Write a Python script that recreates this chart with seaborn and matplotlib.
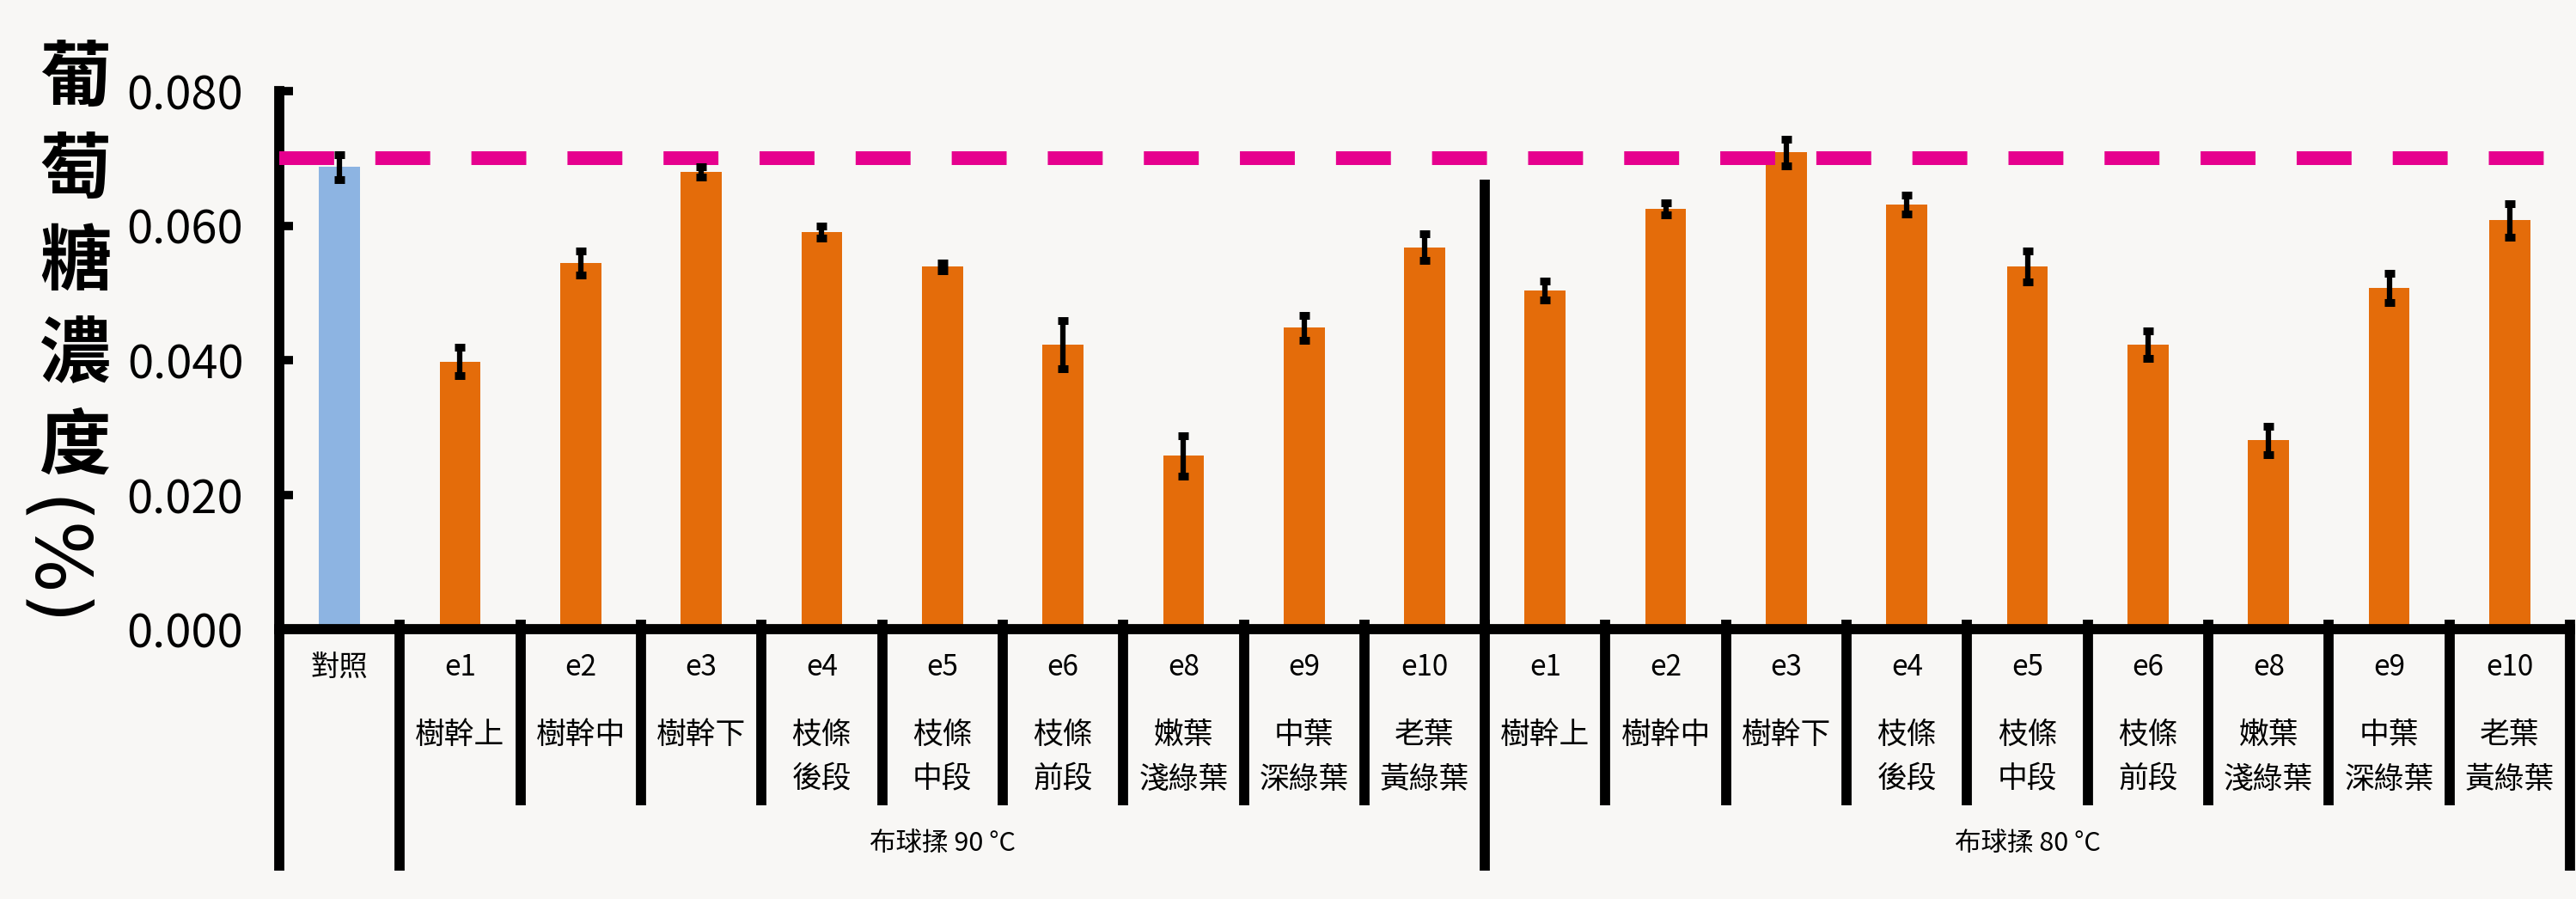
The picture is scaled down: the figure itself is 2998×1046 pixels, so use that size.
import numpy as np
import pandas as pd
import matplotlib
matplotlib.use("Agg")
import matplotlib.pyplot as plt
import matplotlib.transforms as mtransforms
import seaborn as sns

# ---- data -------------------------------------------------------------
control_label = "對照"
control_value = 0.0687
control_err = 0.0019

codes = ["e1", "e2", "e3", "e4", "e5", "e6", "e8", "e9", "e10"]
parts = ["樹幹上", "樹幹中", "樹幹下", "枝條\n後段", "枝條\n中段",
         "枝條\n前段", "嫩葉\n淺綠葉", "中葉\n深綠葉", "老葉\n黃綠葉"]
group_names = ["布球揉 90 °C", "布球揉 80 °C"]

values_90 = [0.0398, 0.0544, 0.0680, 0.0591, 0.0539, 0.0423, 0.0258, 0.0448, 0.0568]
err_90 = [0.0021, 0.0018, 0.0008, 0.0009, 0.0006, 0.0036, 0.0030, 0.0018, 0.0020]
values_80 = [0.0504, 0.0625, 0.0709, 0.0631, 0.0539, 0.0423, 0.0281, 0.0507, 0.0608]
err_80 = [0.0014, 0.0009, 0.0020, 0.0014, 0.0023, 0.0020, 0.0021, 0.0022, 0.0025]

reference_level = 0.070
y_ticks = [0.000, 0.020, 0.040, 0.060, 0.080]
y_title_chars = ["葡", "萄", "糖", "濃", "度"]
y_title_unit = "(%)"

# ---- style ------------------------------------------------------------
BG = "#f8f7f5"
BLUE = "#8db4e2"
ORANGE = "#e46c0a"
MAGENTA = "#e6008e"
INK = "black"
LW = 8.5

sns.set_theme(style="white")
plt.rcParams["font.family"] = ["Noto Sans CJK TC", "DejaVu Sans"]

values = [control_value] + values_90 + values_80
errs = [control_err] + err_90 + err_80
n = len(values)
df = pd.DataFrame({
    "slot": [str(i) for i in range(n)],
    "value": values,
    "kind": ["control"] + ["treated"] * (n - 1),
})

W, H = 2998, 1046
fig = plt.figure(figsize=(W / 100, H / 100), dpi=100, facecolor=BG)
ax = fig.add_axes([325 / W, 1 - 732 / H, (2991 - 325) / W, (732 - 106) / H])
ax.set_facecolor("none")

sns.barplot(data=df, x="slot", y="value", hue="kind", order=df["slot"],
            palette={"control": BLUE, "treated": ORANGE}, dodge=False,
            width=0.34, saturation=1, errorbar=None, legend=False,
            linewidth=0, ax=ax, zorder=2)

ax.axhline(reference_level, color=MAGENTA, lw=11.5, dashes=(4, 3), zorder=3)

ax.errorbar(np.arange(n), values, yerr=errs, fmt="none", ecolor=INK,
            elinewidth=4.5, capsize=4.6, capthick=6.5, zorder=4)

ax.set_xlim(-0.5, n - 0.5)
ax.set_ylim(0, 0.080)
ax.set_yticks(y_ticks)
ax.set_yticklabels([f"{t:.3f}" for t in y_ticks], fontsize=39)
ax.set_xticks([])
ax.set_xlabel("")
ax.set_ylabel("")
ax.tick_params(axis="y", direction="in", length=11.5, width=7, pad=30,
               colors=INK, left=True)
for side in ("top", "right"):
    ax.spines[side].set_visible(False)
for side in ("left", "bottom"):
    ax.spines[side].set_linewidth(LW)
    ax.spines[side].set_color(INK)
    ax.spines[side].set_capstyle("projecting")

# ---- category table below the axis -----------------------------------
tr = mtransforms.blended_transform_factory(ax.transData, fig.transFigure)


def fy(px):
    return 1 - px / H


top_px, short_px, long_px = 721, 937, 1013
long_edges = [-0.5, 0.5, 9.5, n - 0.5]
for i in range(n + 1):
    xb = i - 0.5
    end = long_px if xb in long_edges else short_px
    start = 732 if xb == -0.5 else top_px
    ax.plot([xb, xb], [fy(start), fy(end)], transform=tr, color=INK,
            lw=LW, solid_capstyle="butt", clip_on=False, zorder=5)

# divider between the two treatments, rising into the plot
ax.plot([9.5, 9.5], [0, 0.0668], color=INK, lw=LW,
        solid_capstyle="butt", zorder=5, clip_on=False)

row1, row2, row_gap = 777, 855, 52
ax.text(0, fy(row1), control_label, transform=tr, ha="center", va="center",
        fontsize=24, color=INK)
for g in range(2):
    for j, (c, p) in enumerate(zip(codes, parts)):
        x = 1 + g * 9 + j
        ax.text(x, fy(row1), c, transform=tr, ha="center", va="center",
                fontsize=24, color=INK)
        for k, line in enumerate(p.split("\n")):
            ax.text(x, fy(row2 + k * row_gap), line, transform=tr,
                    ha="center", va="center", fontsize=25, color=INK)
    ax.text(1 + g * 9 + 4, fy(981), group_names[g], transform=tr,
            ha="center", va="center", fontsize=22, color=INK)

# ---- vertical axis title ----------------------------------------------
for k, ch in enumerate(y_title_chars):
    fig.text(88 / W, fy(92 + k * 107), ch, ha="center", va="center",
             fontsize=60, color=INK, fontweight="bold")
fig.text(58 / W, fy(655), y_title_unit, ha="center", va="center",
         rotation=-90, fontsize=64, color=INK,
         family=["DejaVu Sans"])

fig.savefig("out.png", dpi=100, facecolor=BG)
